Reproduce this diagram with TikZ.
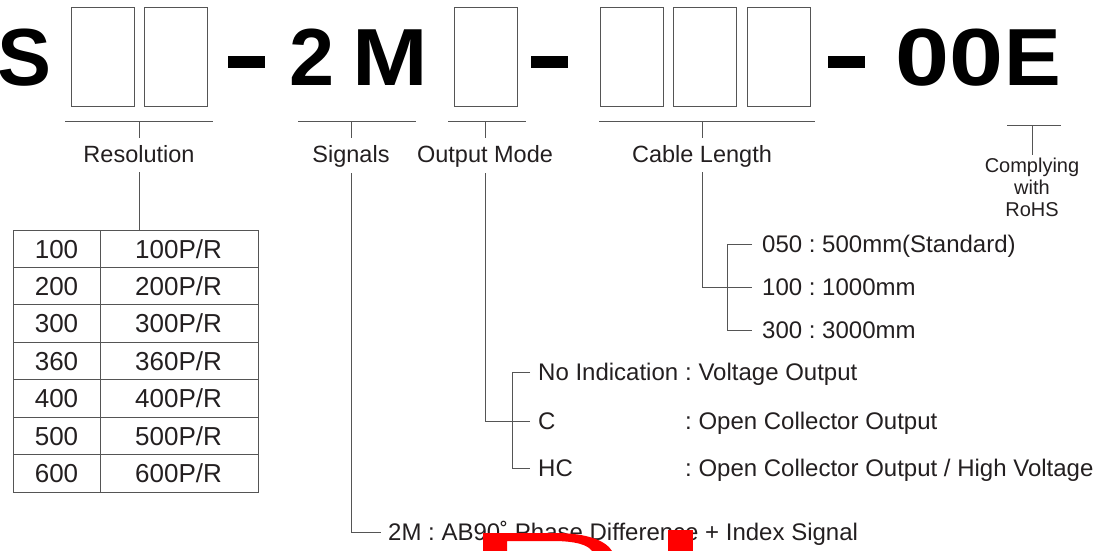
\documentclass[tikz,border=0pt]{standalone}
\usepackage{fontspec}
\usepackage{graphicx}
\setmainfont{Liberation Sans}
\frenchspacing
\usetikzlibrary{positioning}
\definecolor{linegray}{HTML}{555555}
\definecolor{textdark}{HTML}{231F20}
\begin{document}
\begin{tikzpicture}[
  x=1pt, y=-1pt,
  ln/.style={draw=linegray, line width=1pt},
  slot/.style={draw=linegray, line width=1pt, minimum width=63pt, minimum height=99pt, inner sep=0pt, anchor=north west},
  big/.style={font=\fontsize{81}{81}\selectfont\bfseries, text=black, inner sep=0pt, anchor=base},
  lbl/.style={font=\fontsize{23.5}{28}\selectfont, text=textdark, inner sep=0pt, anchor=base},
  opt/.style={font=\fontsize{24}{28}\selectfont, text=textdark, inner sep=0pt, text height=17.2pt, text depth=0pt, anchor=west},
  cell/.style={font=\fontsize{26}{30}\selectfont, text=textdark, inner sep=0pt, anchor=base},
  bar/.style={fill=black, draw=none, minimum width=37pt, minimum height=12pt, inner sep=0pt}
]
\useasboundingbox (0,0) rectangle (1096,550);

\node[big] (S) at (25,85) {S};
\node[slot] (res1) at (71,7) {};
\node[slot] (res2) at (144,7) {};
\node[bar] (dash1) at (246.5,62) {};
\node[big] (two) at (312,85) {2};
\node[big] (M) at (390,85) {\scalebox{1.12}[1]{M}};
\node[slot] (out1) at (454,7) {};
\node[bar] (dash2) at (549,62) {};
\node[slot] (cab1) at (600,7) {};
\node[slot] (cab2) at (673,7) {};
\node[slot] (cab3) at (747,7) {};
\node[bar] (dash3) at (846,62) {};
\node[big] (zeros) at (950,85) {\scalebox{1.2}[1]{00}};
\node[big] (E) at (1033,85) {\scalebox{1.05}[1]{E}};

\node[lbl] (res) at (139,162) {Resolution};
\node[lbl] (sig) at (351,162) {Signals};
\node[lbl] (mode) at (485,162) {Output Mode};
\node[lbl] (cable) at (702,162) {Cable Length};
\node[font=\fontsize{20}{22}\selectfont, text=textdark, inner sep=0pt, align=center, anchor=north] (rohs) at (1032,158) {Complying\\with\\RoHS};

\coordinate (resU) at (139,121);
\coordinate (sigU) at (351,121);
\coordinate (modeU) at (485,121);
\coordinate (cableU) at (702,121);
\coordinate (rohsU) at (1032,125);
\draw[ln] (65,121) -- (213,121);
\draw[ln] (298,121) -- (416,121);
\draw[ln] (448,121) -- (526,121);
\draw[ln] (599,121) -- (815,121);
\draw[ln] (1007,125) -- (1061,125);
\draw[ln] (resU) -- ++(0,17);
\draw[ln] (sigU) -- ++(0,17);
\draw[ln] (modeU) -- ++(0,17);
\draw[ln] (cableU) -- ++(0,17);
\draw[ln] (rohsU) -- ++(0,30);

% resolution table
\draw[ln] (13,230) rectangle (258,492);
\draw[ln] (100,230) -- (100,492);
\foreach \k in {1,...,6} {
  \draw[ln] (13,{230+37.43*\k}) -- (258,{230+37.43*\k});
}
\foreach \v [count=\i from 0] in {100,200,300,360,400,500,600} {
  \node[cell] (code\i) at (56.5,{258+37.43*\i}) {\v};
  \node[cell] (ppr\i) at (178.5,{258+37.43*\i}) {\v P/R};
}
\draw[ln] (139,172) -- (139,230);

% cable length
\node[opt] (len1) at (762,244) {050 : 500mm(Standard)};
\node[opt] (len2) at (762,287) {100 : 1000mm};
\node[opt] (len3) at (762,330) {300 : 3000mm};
\draw[ln] (702,172) |- ([xshift=-10pt]len2.west);
\draw[ln] ([xshift=-10pt]len1.west) -| (727,330) -- ([xshift=-10pt]len3.west);

% output mode
\node[opt] (noind) at (538,372) {No Indication};
\node[opt] (oc) at (538,421) {C};
\node[opt] (hc) at (538,468) {HC};
\node[opt] (noindtxt) at (685,372) {: Voltage Output};
\node[opt] (octxt) at (685,421) {: Open Collector Output};
\node[opt] (hctxt) at (685,468) {: Open Collector Output / High Voltage};
\draw[ln] (485,173) |- ([xshift=-8pt]oc.west);
\draw[ln] ([xshift=-8pt]noind.west) -| (512,468) -- ([xshift=-8pt]hc.west);

% signals
\node[opt] (sig2m) at (388,532) {2M : AB90˚ Phase Difference + Index Signal};
\draw[ln] (351,173) |- ([xshift=-7pt]sig2m.west);

\fill[red, even odd rule] (483,551) -- (483,533) -- (555,533) .. controls (588,533) and (606,541) .. (612,551) -- cycle
  (507,551) -- (507,541) -- (553,541) .. controls (576,541) and (588,545) .. (592,551) -- cycle;
\fill[red] (668,530) rectangle (693,551);
\end{tikzpicture}
\end{document}
